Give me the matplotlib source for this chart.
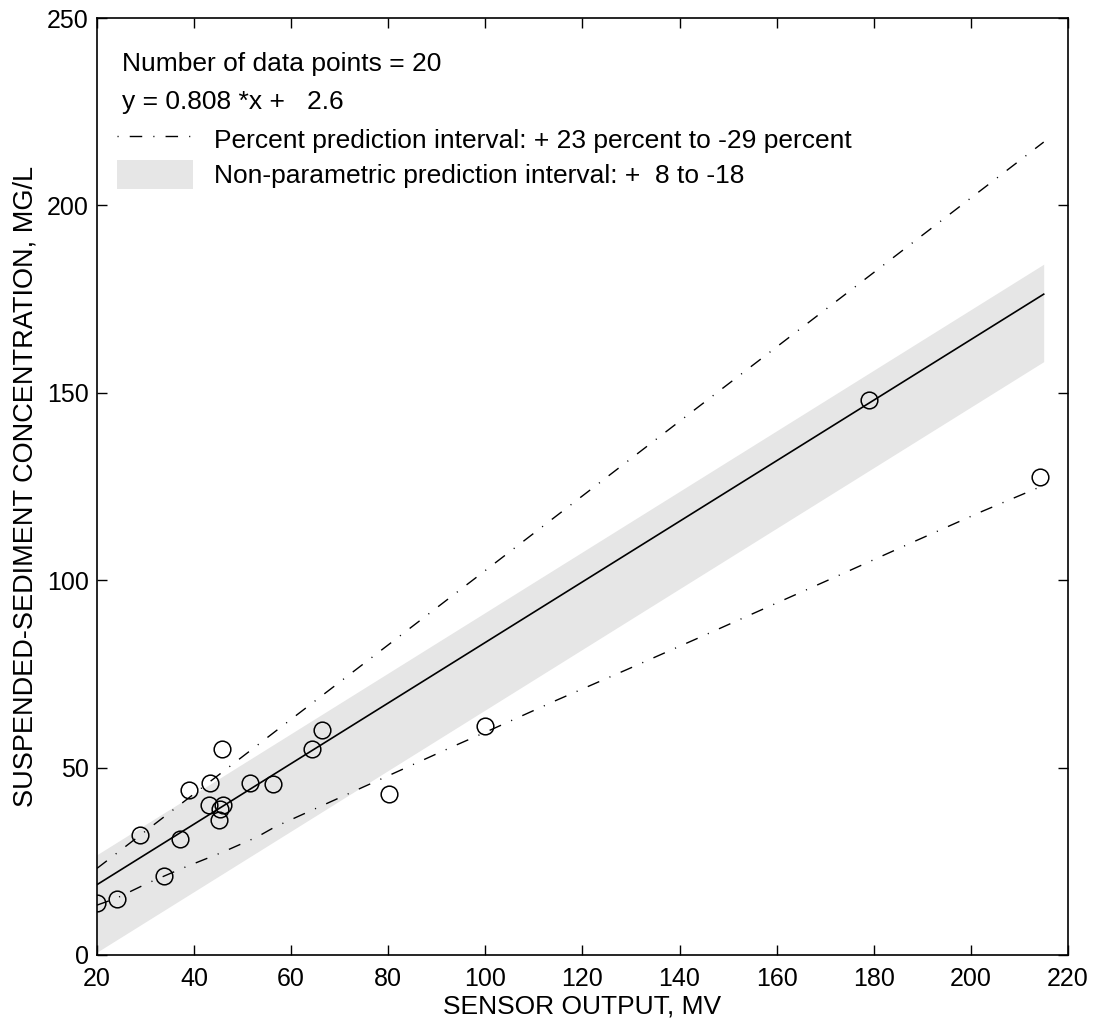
import numpy as np
import matplotlib
matplotlib.use("Agg")
import matplotlib.pyplot as plt
from matplotlib.lines import Line2D
from matplotlib.patches import Patch

plt.rcParams["font.family"] = ["Liberation Sans", "DejaVu Sans"]

# measured data (sensor output, mV vs concentration, mg/L)
sensor_mv = [20.1, 24.1, 33.8, 28.9, 37.2, 38.9, 43.3, 43.0, 45.3, 46.0,
             45.2, 45.8, 51.5, 56.2, 64.3, 66.4, 80.1, 99.9, 179.0, 214.2]
ssc_mgl = [14.0, 15.0, 21.0, 32.0, 31.0, 44.0, 46.0, 40.0, 39.0, 40.0,
           36.0, 55.0, 46.0, 45.5, 55.0, 60.0, 43.0, 61.0, 148.0, 127.5]

# regression y = 0.808*x + 2.6
slope = 0.808
intercept = 2.6
fit_x = [20, 215]

# non-parametric interval offsets
np_upper = 8
np_lower = -18

# percent prediction interval
upper_x = [20, 60, 100, 140, 180, 215]
upper_y = [23.1, 62.9, 102.6, 142.4, 182.1, 216.9]
lower_x = [20, 24.1, 30.5, 37.7, 46.0, 53.0, 56.7, 80.3, 93.1, 100.3,
           114.7, 129.4, 143.9, 158.6, 173.0, 187.6, 202.2, 215]
lower_y = [13.3, 15.2, 19.2, 23.2, 27.5, 31.5, 34.2, 48.0, 55.5, 59.6,
           68.0, 76.3, 84.6, 93.1, 101.4, 109.9, 118.3, 125.3]

fig = plt.figure(figsize=(10.93, 10.25), dpi=100)
ax = fig.add_axes([0.0887, 0.0683, 0.8884, 0.9141])

fx = np.array(fit_x, dtype=float)
fy = slope * fx + intercept
ax.fill_between(fx, fy + np_lower, fy + np_upper, color="#e6e6e6", lw=0, zorder=1)
ax.plot(fx, fy, color="black", lw=1.2, zorder=3)

dashdot = (0, (9, 8, 0.8, 8))
ax.plot(upper_x, upper_y, color="black", lw=1.0, linestyle=dashdot, zorder=2)
ax.plot(lower_x, lower_y, color="black", lw=1.0, linestyle=dashdot, zorder=2)

ax.plot(sensor_mv, ssc_mgl, "o", ms=12, mfc="none", mec="black", mew=1.1, zorder=4)

ax.set_xlim(20, 220)
ax.set_ylim(0, 250)
ax.set_xticks(np.arange(20, 221, 20))
ax.set_yticks(np.arange(0, 251, 50))
ax.tick_params(direction="in", top=True, right=True, length=7, width=1.0,
               labelsize=18)
ax.tick_params(axis="x", pad=9)
ax.tick_params(axis="y", pad=6)
for s in ax.spines.values():
    s.set_linewidth(1.2)

ax.set_xlabel("SENSOR OUTPUT, MV", fontsize=19, labelpad=2)
ax.set_ylabel("SUSPENDED-SEDIMENT CONCENTRATION, MG/L", fontsize=19.5, labelpad=6)

ax.text(0.026, 0.951, "Number of data points = 20", transform=ax.transAxes,
        fontsize=19, va="center", ha="left")
ax.text(0.026, 0.9107, "y = 0.808 *x +   2.6", transform=ax.transAxes,
        fontsize=19, va="center", ha="left")

handles = [
    Line2D([0], [0], color="black", lw=1.0, linestyle=(0, (0.8, 8, 9, 8))),
    Patch(facecolor="#e6e6e6", edgecolor="none"),
]
labels = [
    "Percent prediction interval: + 23 percent to -29 percent",
    "Non-parametric prediction interval: +  8 to -18",
]
ax.legend(handles, labels, loc="upper left", bbox_to_anchor=(0.0206, 0.8863),
          frameon=False, fontsize=19, handlelength=2.88, handleheight=1.33,
          handletextpad=0.8, labelspacing=0.23, borderaxespad=0.0,
          borderpad=0.0)

fig.savefig("out.png", dpi=100)
